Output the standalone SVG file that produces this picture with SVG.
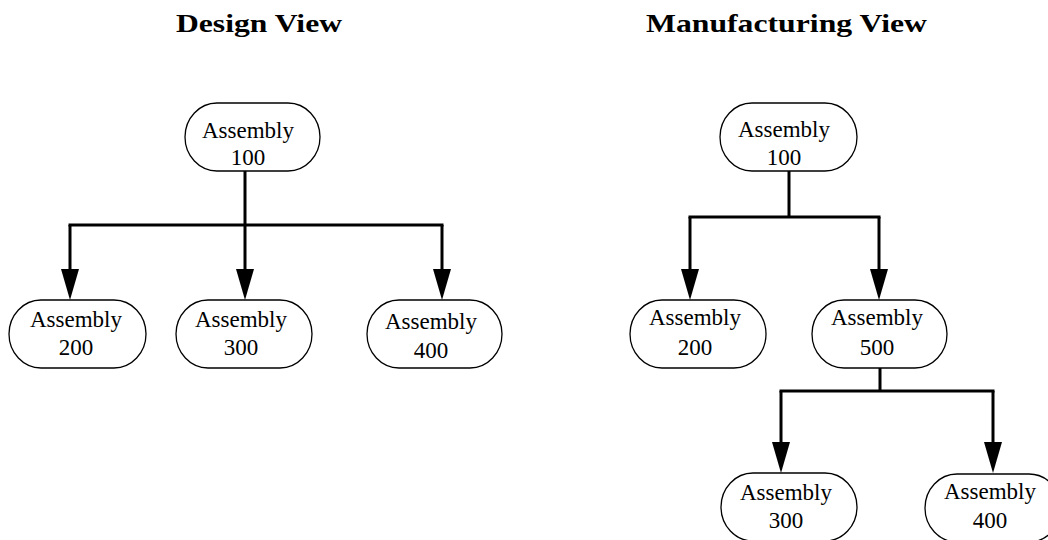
<svg xmlns="http://www.w3.org/2000/svg" width="1048" height="540" viewBox="0 0 1048 540">
  <defs>
    <marker id="arrow" markerUnits="userSpaceOnUse" markerWidth="34" markerHeight="20" viewBox="0 -10 34 20" refX="0" refY="0" orient="auto" overflow="visible">
      <path d="M0,-9 L31,0 L0,9 Z" fill="#000"/>
    </marker>
    <style>
      .node rect { fill: #fff; stroke: #000; stroke-width: 1.3; }
      .node text { font-family: "Liberation Serif", "Times New Roman", serif; font-size: 23px; fill: #000; text-anchor: middle; }
      .title { font-family: "Liberation Serif", "Times New Roman", serif; font-size: 26px; font-weight: bold; fill: #000; }
      .wire { fill: none; stroke: #000; stroke-width: 3; }
      .arrowed { marker-end: url(#arrow); }
    </style>
  </defs>
  <rect width="1048" height="540" fill="#fff"/>

  <!-- headings -->
  <text class="title" x="176" y="32" textLength="166" lengthAdjust="spacingAndGlyphs">Design View</text>
  <text class="title" x="646" y="32" textLength="281" lengthAdjust="spacingAndGlyphs">Manufacturing View</text>

  <!-- connectors -->
  <g id="connectors">
    <!-- design view -->
    <path class="wire" d="M245,171 V225"/>
    <path class="wire" d="M68.5,225 H443.5"/>
    <path class="wire arrowed" d="M70,225 V269"/>
    <path class="wire arrowed" d="M245,225 V269"/>
    <path class="wire arrowed" d="M442,225 V269"/>
    <!-- manufacturing view -->
    <path class="wire" d="M789,171 V217"/>
    <path class="wire" d="M688.5,217 H880.5"/>
    <path class="wire arrowed" d="M690,217 V269"/>
    <path class="wire arrowed" d="M879,217 V269"/>
    <path class="wire" d="M880,368 V391"/>
    <path class="wire" d="M779.5,391 H994.5"/>
    <path class="wire arrowed" d="M781,391 V442"/>
    <path class="wire arrowed" d="M993,391 V442"/>
  </g>

  <!-- design view nodes -->
  <g id="design-100" class="node">
    <rect x="185" y="103" width="135" height="68" rx="32" ry="34"/>
    <text x="248" y="138">Assembly</text>
    <text x="248" y="165">100</text>
  </g>
  <g id="design-200" class="node">
    <rect x="9" y="300" width="137" height="68" rx="32" ry="34"/>
    <text x="76" y="327">Assembly</text>
    <text x="76" y="355">200</text>
  </g>
  <g id="design-300" class="node">
    <rect x="176" y="300" width="136" height="68" rx="32" ry="34"/>
    <text x="241" y="327">Assembly</text>
    <text x="241" y="355">300</text>
  </g>
  <g id="design-400" class="node">
    <rect x="367" y="300" width="135" height="68" rx="32" ry="34"/>
    <text x="431" y="329">Assembly</text>
    <text x="431" y="358">400</text>
  </g>

  <!-- manufacturing view nodes -->
  <g id="mfg-100" class="node">
    <rect x="720" y="103" width="137" height="68" rx="32" ry="34"/>
    <text x="784" y="137">Assembly</text>
    <text x="784" y="165">100</text>
  </g>
  <g id="mfg-200" class="node">
    <rect x="630" y="300" width="136" height="68" rx="32" ry="34"/>
    <text x="695" y="325">Assembly</text>
    <text x="695" y="355">200</text>
  </g>
  <g id="mfg-500" class="node">
    <rect x="812" y="300" width="135" height="68" rx="32" ry="34"/>
    <text x="877" y="325">Assembly</text>
    <text x="877" y="355">500</text>
  </g>
  <g id="mfg-300" class="node">
    <rect x="721" y="473" width="136" height="68" rx="32" ry="34"/>
    <text x="786" y="500">Assembly</text>
    <text x="786" y="528">300</text>
  </g>
  <g id="mfg-400" class="node">
    <rect x="925" y="474" width="136" height="68" rx="32" ry="34"/>
    <text x="990" y="499">Assembly</text>
    <text x="990" y="528">400</text>
  </g>
</svg>
